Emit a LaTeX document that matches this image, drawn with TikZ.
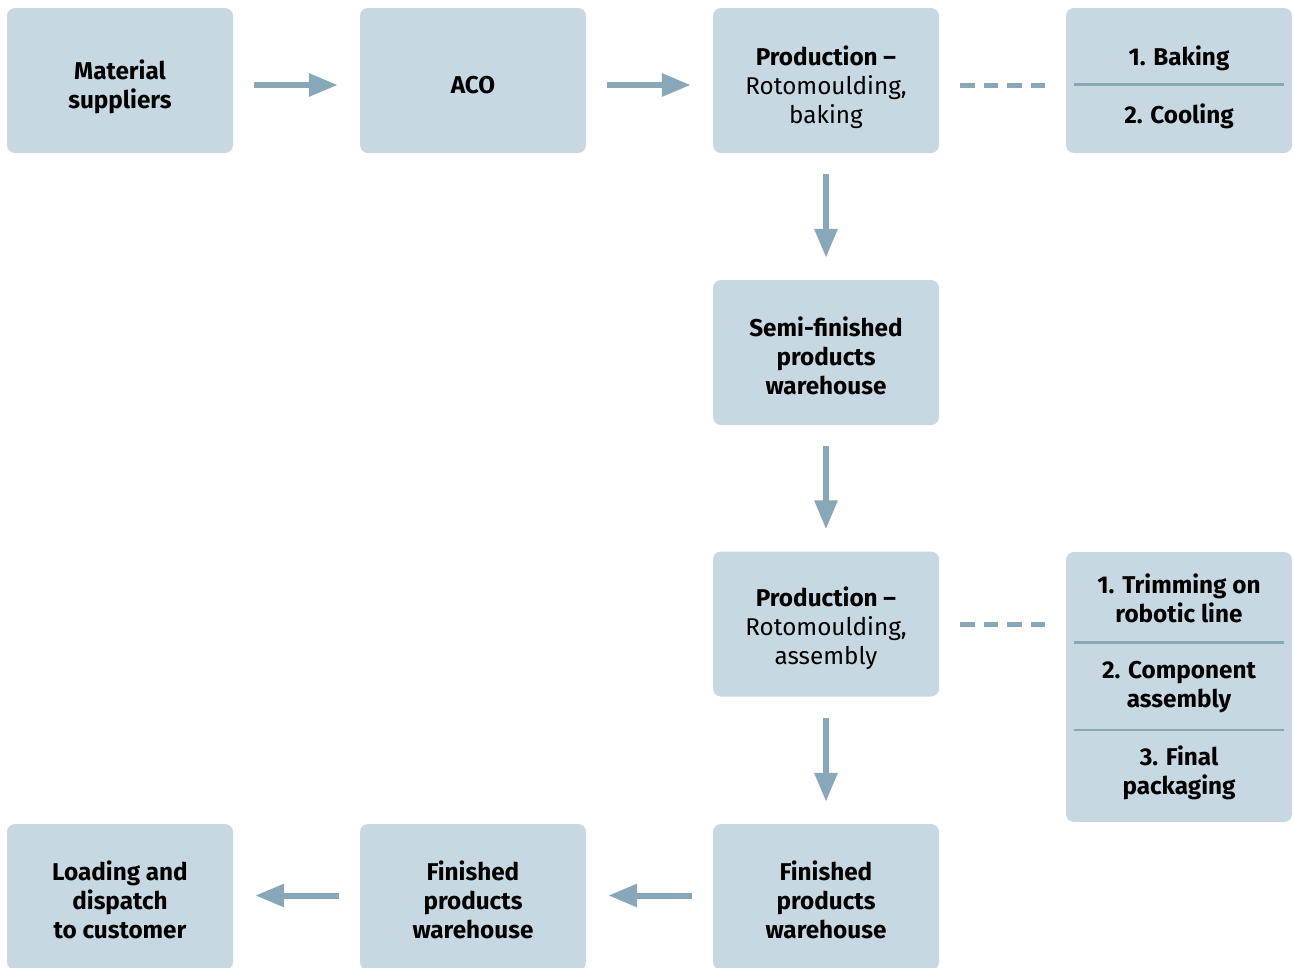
\documentclass[tikz,border=0pt]{standalone}
\usepackage{fontspec}
\setmainfont{Fira Sans}
\usetikzlibrary{arrows.meta}
\definecolor{boxfill}{HTML}{C8D8E3}
\definecolor{arrcol}{HTML}{88A8BA}
\begin{document}
\begin{tikzpicture}[x=1pt,y=-1pt,
  box/.style={rectangle, rounded corners=8pt, fill=boxfill, minimum width=226pt, minimum height=145pt, inner sep=0pt},
  arr/.style={arrcol, line width=6pt, -{Triangle[length=29pt,width=22pt]}, shorten <=21pt, shorten >=22pt},
  dsh/.style={arrcol, line width=5pt, dash pattern=on 14.5pt off 9pt, shorten <=21pt, shorten >=21pt},
  sep/.style={arrcol, line width=2.5pt},
  lbl/.style={inner sep=0pt, align=center, text=black, font=\fontsize{24.3}{29}\selectfont\bfseries}
]
\useasboundingbox (0,0) rectangle (1293,967);
\fill[white] (0,0) rectangle (1293,967);

% top row
\node[box] (ms) at (120,80.5) {};
\node[lbl] (msl) at ([yshift=-6pt]ms.center) {Material\\suppliers};
\node[box] (aco) at (473,80.5) {};
\node[lbl] (acol) at ([yshift=-5pt]aco.center) {ACO};
\node[box] (pb) at (826,80.5) {};
\node[lbl] (pbl) at ([yshift=-6.5pt]pb.center) {Production --\\{\mdseries Rotomoulding,}\\{\mdseries baking}};
\node[box] (bc) at (1179,80.5) {};
\node[lbl] (bk) at (1179,58) {1. Baking};
\node[lbl] (cl) at (1179,116) {2. Cooling};
\coordinate (s1a) at (1074,84.5);
\coordinate (s1b) at (1284,84.5);
\draw[sep] (s1a) -- (s1b);

% middle column
\node[box] (sf) at (826,352.5) {};
\node[lbl] (sfl) at ([yshift=-3.5pt]sf.center) {Semi-finished\\products\\warehouse};
\node[box] (pa) at (826,624) {};
\node[lbl] (pal) at ([yshift=-4pt]pa.center) {Production --\\{\mdseries Rotomoulding,}\\{\mdseries assembly}};

% right lower box
\node[box, minimum height=270pt] (tr) at (1179,687) {};
\node[lbl] (t1) at (1179,598) {1. Trimming on\\robotic line};
\node[lbl] (t2) at (1179,687) {2. Component\\assembly};
\node[lbl] (t3) at (1179,773) {3. Final\\packaging};
\coordinate (s2a) at (1074,642.5);
\coordinate (s2b) at (1284,642.5);
\coordinate (s3a) at (1074,730);
\coordinate (s3b) at (1284,730);
\draw[sep] (s2a) -- (s2b);
\draw[sep] (s3a) -- (s3b);

% bottom row
\node[box, minimum height=146pt] (fp1) at (826,897) {};
\node[lbl] (fp1l) at ([yshift=-3pt]fp1.center) {Finished\\products\\warehouse};
\node[box, minimum height=146pt] (fp2) at (473,897) {};
\node[lbl] (fp2l) at ([yshift=-3pt]fp2.center) {Finished\\products\\warehouse};
\node[box, minimum height=146pt] (ld) at (120,897) {};
\node[lbl] (ldl) at ([yshift=-3pt]ld.center) {Loading and\\dispatch\\to customer};

% connectors
\draw[arr] (ms.east |- 0,85) -- (aco.west |- 0,85);
\draw[arr] (aco.east |- 0,85) -- (pb.west |- 0,85);
\draw[dsh] (pb.east |- 0,85) -- (bc.west |- 0,85);
\draw[arr] (pb) -- (sf);
\draw[arr] (sf) -- (pa);
\draw[dsh] (pa.east) -- (pa.east -| tr.west);
\draw[arr] (pa) -- (pa.south |- fp1.north);
\draw[arr] (fp1.west |- 0,895.5) -- (fp2.east |- 0,895.5);
\draw[arr] (fp2.west |- 0,895.5) -- (ld.east |- 0,895.5);
\end{tikzpicture}
\end{document}
